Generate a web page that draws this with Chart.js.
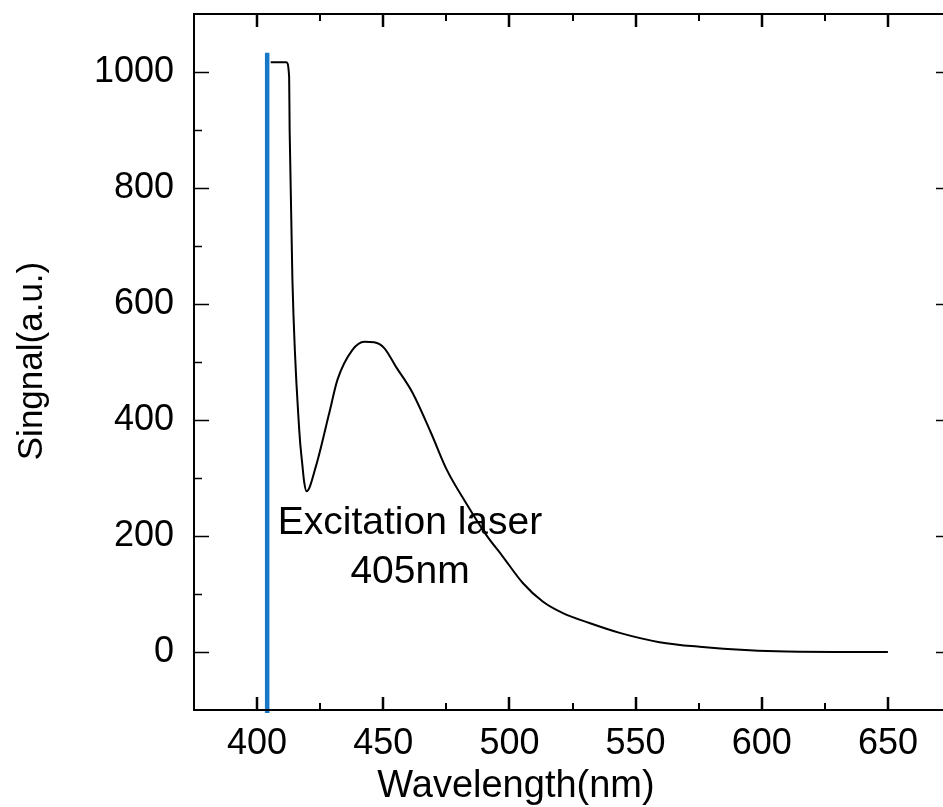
<!DOCTYPE html>
<html><head><meta charset="utf-8">
<script src="https://cdn.jsdelivr.net/npm/chart.js@4/dist/chart.umd.min.js"></script>
<style>
html,body{margin:0;padding:0;background:#fff;overflow:hidden;width:943px;height:807px}
#wrap{position:absolute;left:0;top:0;width:960px;height:807px}
</style>
</head><body><div id="wrap"><canvas id="c" width="960" height="807"></canvas></div>
<script>
// ---- data ----
const wavelengths = [405.4, 411.6, 412.7, 412.9, 414.0, 416.7, 418.0, 418.7, 419.6, 423.3, 428.6, 431.9, 437.8, 442.5, 446.4, 450.4, 455.0, 461.6, 468.9, 475.2, 482.8, 490.8, 497.3, 505.3, 513.2, 521.2, 531.7, 543.7, 559.5, 575.4, 595.2, 609.8, 650];
const signal = [1017, 1017, 992, 900, 642, 383, 320, 292, 277, 320, 412, 470, 521, 535, 534, 524, 492, 447, 378, 314, 257, 202, 165, 119, 87, 67, 50, 33, 17, 9, 3, 1, 0];
const laserWavelength = 404;
const laserSignalRange = [-105, 1033];
const xTickValues = [400, 450, 500, 550, 600, 650];
const xMinorTickValues = [425, 475, 525, 575, 625];
const yTickValues = [0, 200, 400, 600, 800, 1000];
const yMinorTickValues = [100, 300, 500, 700, 900];
const xRange = [375, 675];
const yRange = [-100, 1100];
const xTitle = 'Wavelength(nm)';
const yTitle = 'Singnal(a.u.)';
const annotationLines = ['Excitation laser', '405nm'];

const FONT = '"Liberation Sans", Arial, sans-serif';

const spectrumPoints = wavelengths.map((w, i) => ({x: w, y: signal[i]}));
const laserPoints = laserSignalRange.map(v => ({x: laserWavelength, y: v}));

const zeroPad = s => { s.paddingTop = 0; s.paddingBottom = 0; s.paddingLeft = 0; s.paddingRight = 0; };

const framePlugin = {
  id: 'frame',
  afterDraw(chart) {
    const {ctx, chartArea: a, scales} = chart;
    const xs = scales.x, ys = scales.y;
    ctx.save();
    ctx.strokeStyle = '#000';
    ctx.lineWidth = 2;
    ctx.strokeRect(a.left, a.top, a.right - a.left, a.bottom - a.top);
    const xt = (vals, len, w) => {
      ctx.lineWidth = w;
      vals.forEach(v => {
        const px = Math.round(xs.getPixelForValue(v));
        ctx.beginPath();
        ctx.moveTo(px, a.bottom); ctx.lineTo(px, a.bottom - len);
        ctx.moveTo(px, a.top); ctx.lineTo(px, a.top + len);
        ctx.stroke();
      });
    };
    xt(xTickValues, 13, 2.5);
    xt(xMinorTickValues, 7, 2);
    const yt = (vals, len, w) => {
      ctx.lineWidth = w;
      vals.forEach(v => {
        const py = Math.round(ys.getPixelForValue(v)) + 0.5;
        ctx.beginPath();
        ctx.moveTo(a.left, py); ctx.lineTo(a.left + len, py);
        ctx.moveTo(a.right, py); ctx.lineTo(a.right - len, py);
        ctx.stroke();
      });
    };
    yt(yTickValues, 15, 1.5);
    yt(yMinorTickValues, 8, 1.5);
    ctx.fillStyle = '#000';
    ctx.font = '38px ' + FONT;
    ctx.textAlign = 'center';
    ctx.textBaseline = 'alphabetic';
    ctx.fillText(xTitle, 516, 797);
    ctx.save();
    ctx.translate(42, 361);
    ctx.rotate(-Math.PI / 2);
    ctx.font = '35px ' + FONT;
    ctx.fillText(yTitle, 0, 0);
    ctx.restore();
    ctx.font = '39px ' + FONT;
    ctx.fillText(annotationLines[0], 410, 534);
    ctx.fillText(annotationLines[1], 410, 583);
    ctx.restore();
  }
};

new Chart(document.getElementById('c'), {
  type: 'line',
  data: {
    datasets: [
      {
        label: 'Excitation laser',
        data: laserPoints,
        borderColor: '#1878c8',
        borderWidth: 4.5,
        pointRadius: 0,
        clip: false,
        fill: false
      },
      {
        label: 'Signal',
        data: spectrumPoints,
        borderColor: '#000',
        borderWidth: 2,
        pointRadius: 0,
        cubicInterpolationMode: 'monotone',
        fill: false
      }
    ]
  },
  options: {
    responsive: false,
    devicePixelRatio: 1,
    animation: false,
    layout: {padding: {left: 0, top: 14, right: 9, bottom: 0}},
    plugins: {legend: {display: false}, tooltip: {enabled: false}},
    scales: {
      x: {
        type: 'linear', position: 'bottom',
        min: xRange[0], max: xRange[1],
        afterBuildTicks: s => { s.ticks = xTickValues.map(v => ({value: v})); },
        afterFit: s => { s.height = 97; zeroPad(s); },
        grid: {display: false, drawTicks: false},
        border: {display: false},
        ticks: {color: '#000', font: {family: FONT, size: 36}, padding: 12, maxRotation: 0, autoSkip: false, callback: v => String(v)}
      },
      y: {
        type: 'linear', position: 'left',
        min: yRange[0], max: yRange[1],
        afterBuildTicks: s => { s.ticks = yTickValues.map(v => ({value: v})); },
        afterFit: s => { s.width = 194; zeroPad(s); },
        grid: {display: false, drawTicks: false},
        border: {display: false},
        ticks: {color: '#000', font: {family: FONT, size: 36}, padding: 20, autoSkip: false, callback: v => String(v)}
      }
    }
  },
  plugins: [framePlugin]
});
</script>
</body></html>
